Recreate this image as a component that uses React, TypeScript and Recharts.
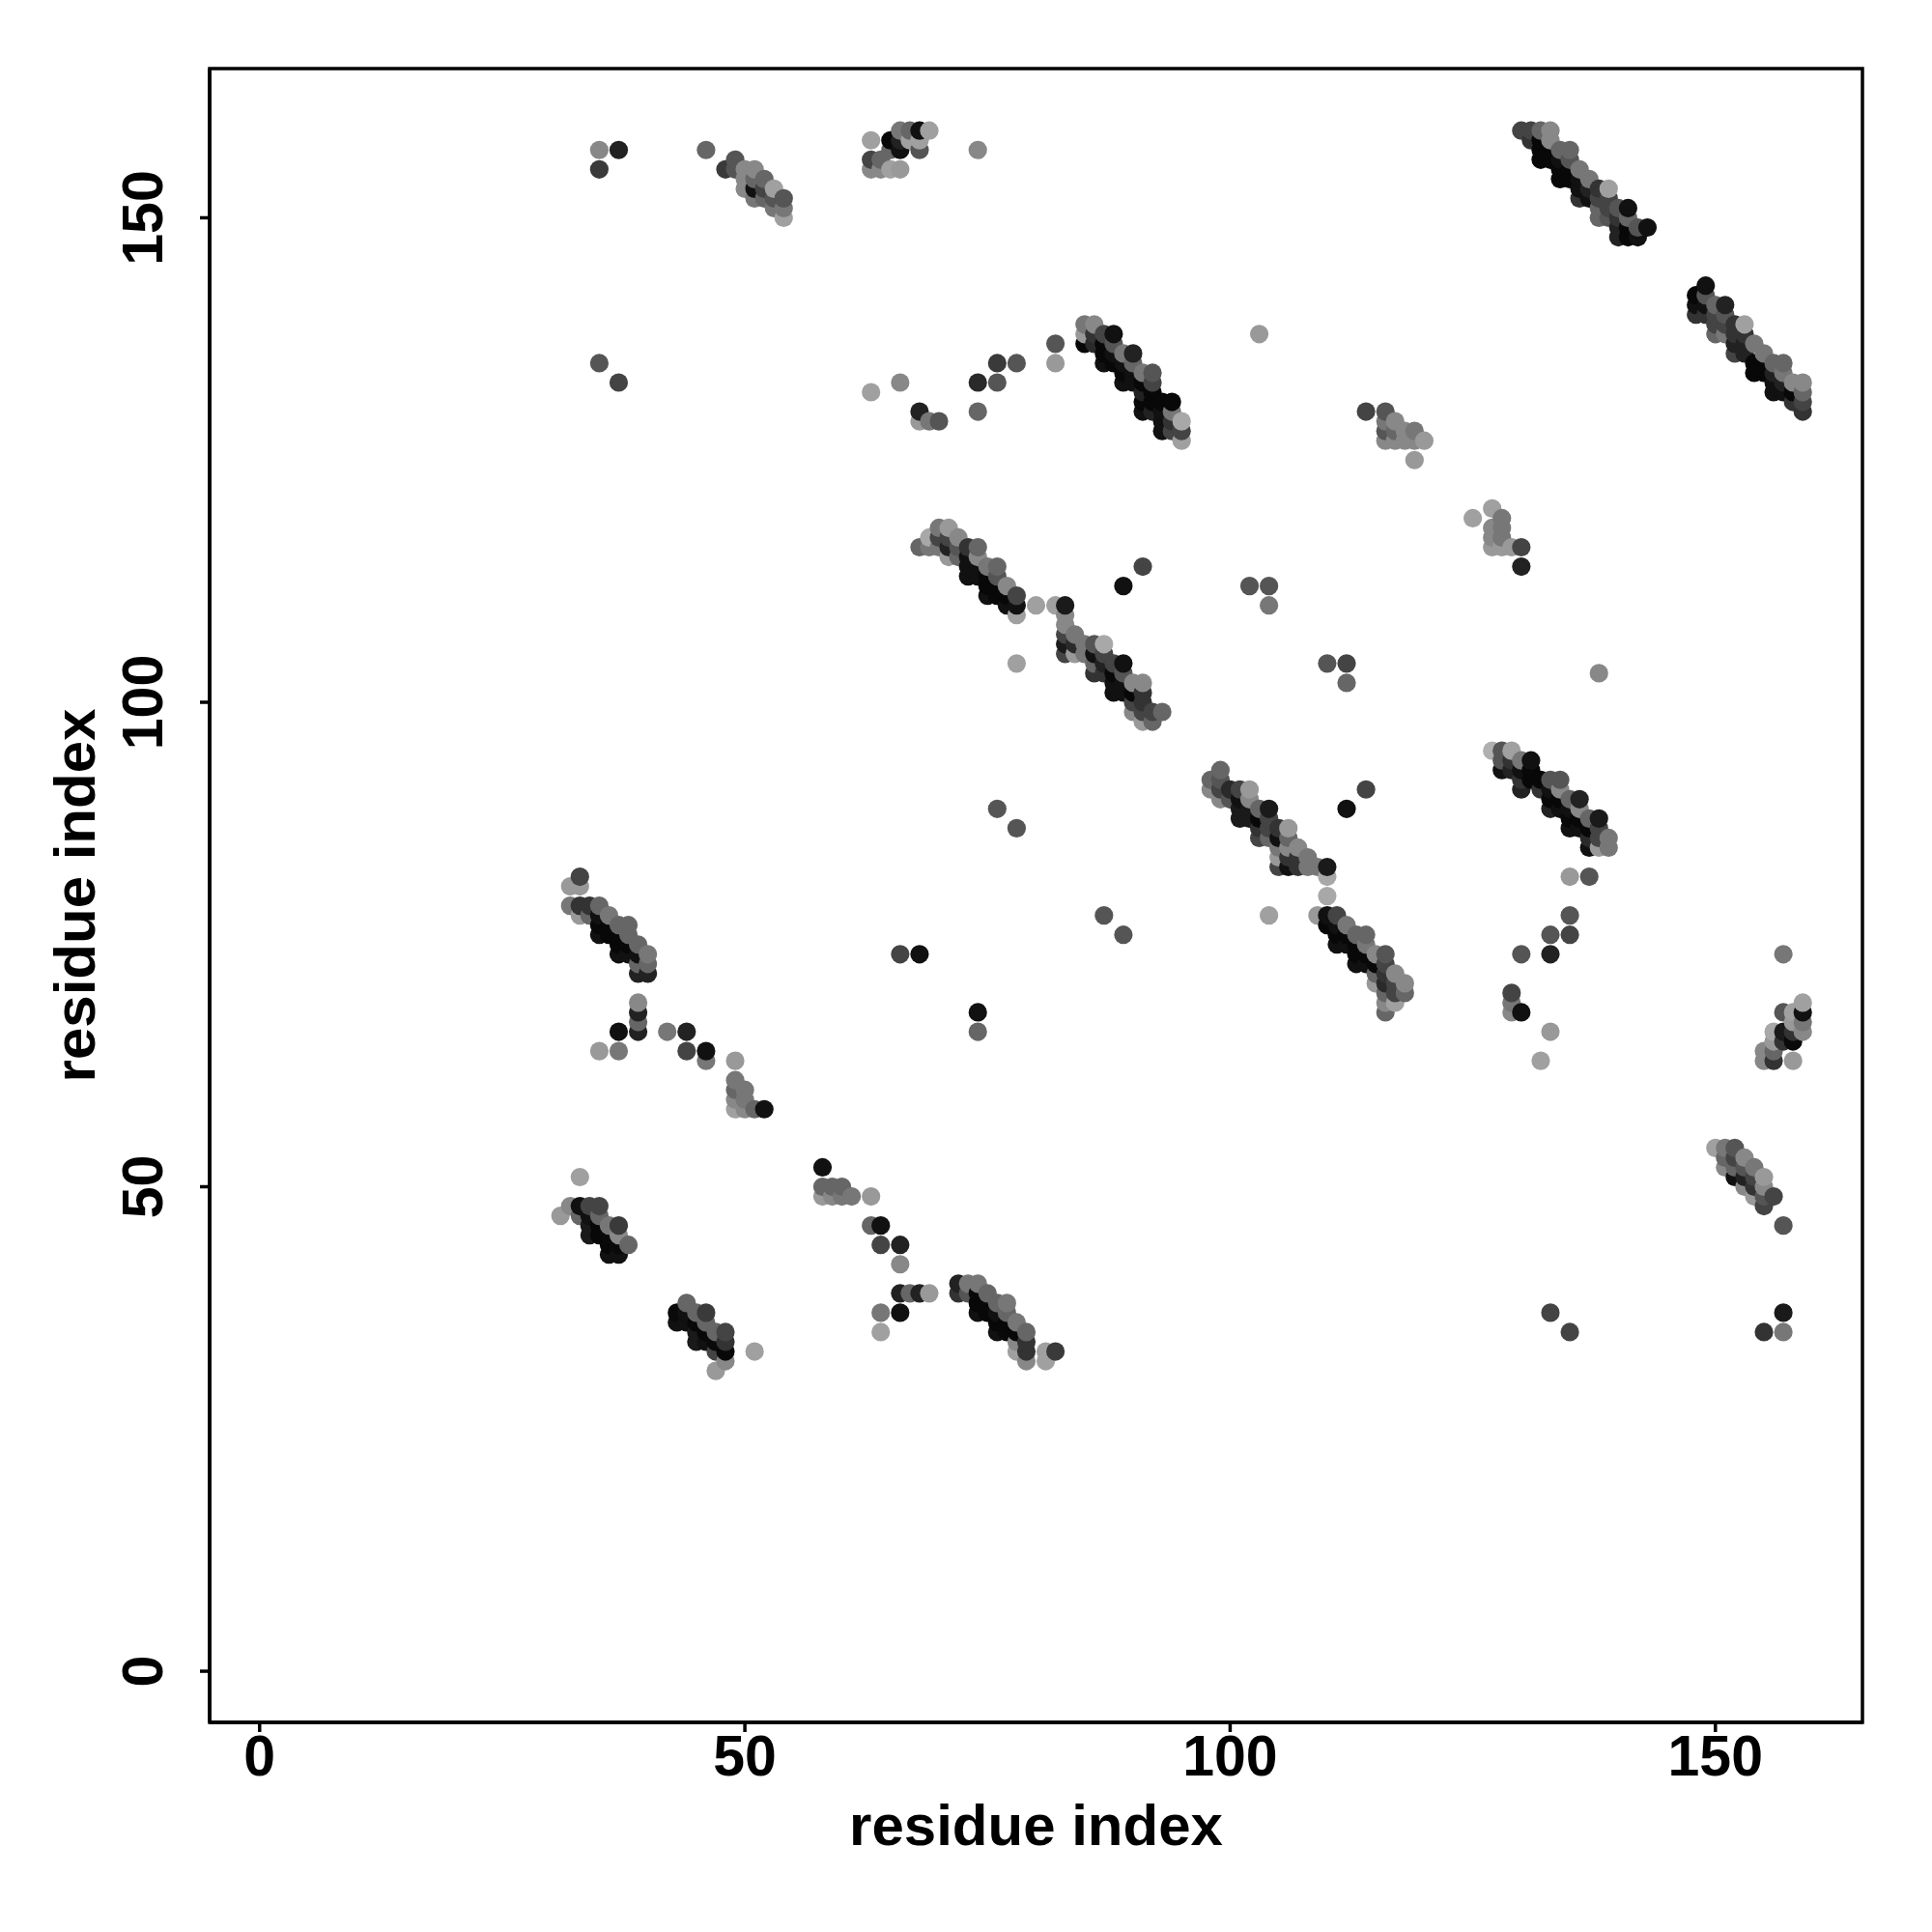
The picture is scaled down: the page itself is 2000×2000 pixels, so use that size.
import React from "react";
import { ScatterChart, Scatter, XAxis, YAxis, ReferenceArea } from "recharts";

type P = [number, number, number];
const tickValues = [0, 50, 100, 150];
const axisTitle = "residue index";

const topLeft: P[] = [[35,157,0x88],[37,157,0x22],[35,155,0x3a],[46,157,0x66],[48,155,0x3a],[49,156,0x55],[49,155,0x55],[50,155,0x88],[51,155,0x88],[50,154,0x88],[50,153,0x88],[51,154,0x66],[51,153,0x11],[51,152,0x77],[52,154,0x66],[52,153,0x44],[52,152,0x66],[53,153,0xa0],[53,152,0x55],[53,151,0x77],[54,152,0x55],[54,151,0x77],[54,150,0xa0]];
const topMid: P[] = [[63,158,0xa0],[63,156,0x44],[63,155,0x88],[64,156,0x66],[64,155,0x88],[65,158,0x08],[65,157,0x66],[65,155,0xa0],[66,155,0x99],[66,157,0x11],[66,158,0x22],[66,159,0x77],[67,159,0x66],[67,158,0xa0],[68,159,0x11],[68,158,0xa0],[68,157,0x55],[69,159,0xa0],[74,157,0x88]];
const topRight: P[] = [[130,159,0x44],[131,159,0x44],[131,158,0x33],[132,159,0x66],[132,158,0x08],[132,157,0x08],[132,156,0x08],[133,159,0x88],[133,158,0x88],[133,157,0x08],[133,156,0x08],[134,157,0x66],[134,156,0x11],[134,155,0x08],[134,154,0x08],[135,157,0x66],[135,156,0x55],[135,155,0x08],[135,154,0x08],[136,155,0x77],[136,154,0x11],[136,153,0x11],[136,152,0x33],[137,154,0x77],[137,153,0x22],[137,152,0x11],[138,153,0x33],[138,152,0x44],[138,151,0x66],[138,150,0x66],[139,153,0xa0],[139,152,0x44],[139,151,0x44],[139,150,0x55],[140,151,0x55],[140,150,0x33],[140,149,0x22],[140,148,0x22],[141,151,0x11],[141,150,0x66],[141,149,0x08],[141,148,0x08],[142,149,0x55],[142,148,0x11],[143,149,0x11]];
const farRight: P[] = [[148,142,0x08],[148,141,0x11],[148,140,0x33],[149,143,0x11],[149,142,0x55],[149,141,0x11],[149,140,0x33],[150,141,0x66],[150,140,0x44],[150,139,0x44],[150,138,0x66],[151,141,0x22],[151,140,0x55],[151,139,0x44],[151,138,0x77],[152,139,0x33],[152,138,0x33],[152,137,0x22],[152,136,0x44],[153,139,0xa0],[153,138,0x33],[153,137,0x22],[153,136,0x22],[154,137,0x77],[154,135,0x08],[154,134,0x08],[155,136,0x77],[155,135,0x08],[155,134,0x08],[156,135,0x66],[156,134,0x22],[156,133,0x11],[156,132,0x11],[157,135,0x66],[157,134,0x77],[157,133,0x22],[157,132,0x11],[158,133,0x88],[158,132,0x08],[158,131,0x33],[159,133,0x88],[159,132,0x66],[159,131,0x44],[159,130,0x33]];
const midUpper: P[] = [[35,135,0x55],[37,133,0x44],[63,132,0xa0],[66,133,0x88],[68,130,0x22],[68,129,0x99],[69,129,0x77],[70,129,0x55],[74,130,0x66],[74,133,0x2a],[76,133,0x55],[76,135,0x3a],[78,135,0x55],[82,137,0x55],[82,135,0x99],[103,138,0x99]];
const midBand: P[] = [[85,139,0x77],[86,139,0x88],[85,138,0x99],[85,137,0x08],[86,138,0x33],[86,137,0x2a],[87,138,0x44],[88,138,0x11],[87,137,0x08],[88,137,0x55],[87,135,0x11],[88,135,0x08],[87,136,0x08],[88,136,0x11],[89,136,0x77],[90,136,0x22],[89,135,0x11],[90,135,0x66],[89,133,0x11],[90,133,0x11],[89,134,0x08],[90,134,0x11],[91,134,0x77],[92,134,0x55],[91,132,0x22],[91,133,0x08],[92,133,0x44],[92,132,0x08],[91,130,0x11],[92,130,0x22],[91,131,0x08],[92,131,0x08],[93,131,0x08],[93,130,0x11],[93,129,0x11],[93,128,0x11],[94,131,0x08],[94,130,0x77],[94,129,0x33],[94,128,0x44],[95,129,0xa8],[95,128,0x44],[95,127,0xa0]];
const rightUpper: P[] = [[114,130,0x44],[116,130,0x55],[116,129,0x77],[116,128,0x55],[116,127,0x88],[117,129,0x88],[117,128,0x66],[117,127,0x88],[118,128,0x88],[118,127,0x88],[119,128,0x77],[119,127,0x88],[119,125,0x99],[120,127,0x99],[125,119,0xa0],[127,120,0xa0],[127,118,0x88],[127,117,0x88],[127,116,0x99],[128,119,0x77],[128,118,0x77],[128,117,0x77],[128,116,0x99],[129,116,0x99],[130,116,0x44],[130,114,0x22]];
const centerA: P[] = [[68,116,0x66],[69,116,0x77],[69,117,0xa8],[70,118,0x77],[71,118,0x99],[70,117,0x44],[70,116,0x77],[71,117,0x44],[71,116,0x22],[71,115,0x99],[72,117,0x88],[72,116,0x55],[72,115,0x66],[73,116,0x33],[74,116,0x66],[73,115,0x11],[74,115,0x88],[73,114,0x11],[73,113,0x11],[74,114,0x11],[74,113,0x11],[75,114,0x77],[76,114,0x66],[75,113,0x08],[76,113,0x55],[75,112,0x08],[75,111,0x11],[76,112,0x08],[76,111,0x08],[77,112,0x88],[77,111,0x08],[77,110,0x11],[78,111,0x44],[78,110,0x11],[78,109,0xa0],[80,110,0xa0],[82,110,0xa0],[78,104,0xa0]];
const centerB: P[] = [[83,110,0x1a],[83,109,0x88],[83,108,0x88],[83,107,0x44],[83,106,0x1a],[83,105,0x44],[84,107,0x77],[84,106,0x2a],[84,105,0x99],[85,106,0x77],[85,105,0x77],[86,106,0x55],[87,106,0xa8],[86,105,0x11],[87,105,0x44],[86,104,0x66],[86,103,0x33],[87,104,0x22],[87,103,0x33],[88,104,0x44],[89,104,0x11],[88,103,0x08],[89,103,0x55],[88,102,0x11],[88,101,0x11],[89,102,0x11],[89,101,0x11],[90,102,0x88],[91,102,0x88],[90,101,0x08],[91,101,0x33],[90,100,0x44],[90,99,0x88],[91,100,0x33],[91,99,0x44],[91,98,0x99],[92,99,0x44],[92,98,0x66],[93,99,0x66],[89,112,0x11],[91,114,0x44]];
const scatteredMid: P[] = [[102,112,0x55],[104,112,0x55],[104,110,0x77],[110,104,0x55],[112,104,0x44],[112,102,0x66],[138,103,0x88],[114,91,0x44],[112,89,0x11],[76,89,0x55],[78,87,0x55],[87,78,0x55],[89,76,0x55],[104,78,0xa0],[66,74,0x44],[68,74,0x11],[74,68,0x11],[74,66,0x66],[135,82,0x99],[137,82,0x55],[135,78,0x55],[133,76,0x55],[135,76,0x44],[130,74,0x55],[133,74,0x22],[129,70,0x44],[129,69,0x77],[129,68,0x88],[130,68,0x11],[133,66,0x99],[132,63,0xa0],[157,74,0x77]];
const bandNinety: P[] = [[99,93,0x66],[98,92,0x66],[98,91,0x88],[99,92,0x55],[99,91,0x44],[99,90,0x88],[100,91,0x2a],[100,90,0x55],[101,91,0x44],[102,91,0x99],[101,90,0x11],[102,90,0x88],[101,89,0x1a],[101,88,0x1a],[102,89,0x1a],[102,88,0x1a],[103,89,0x66],[104,89,0x1a],[103,88,0x08],[104,88,0x44],[103,87,0x33],[103,86,0x44],[104,87,0x44],[104,86,0x66],[105,87,0x33],[106,87,0x99],[105,86,0x11],[106,86,0x66],[105,85,0x77],[105,84,0x99],[105,83,0x44],[106,85,0x88],[106,84,0x33],[106,83,0x11],[107,85,0x88],[107,84,0x33],[107,83,0x33],[108,84,0x77],[108,83,0x77],[109,83,0x77],[110,83,0x1a],[110,82,0xa8],[110,80,0xa8]];
const bandSeventy: P[] = [[109,78,0x99],[110,78,0x11],[111,78,0x44],[110,77,0x08],[111,77,0x11],[112,77,0x77],[111,76,0x08],[111,75,0x11],[112,76,0x08],[112,75,0x11],[113,76,0x66],[114,76,0x66],[113,75,0x08],[114,75,0x77],[113,74,0x08],[113,73,0x11],[114,74,0x08],[114,73,0x11],[115,74,0x88],[116,74,0x55],[115,73,0x08],[116,73,0x44],[115,72,0x66],[115,71,0x99],[116,72,0x33],[116,71,0x2a],[116,70,0x66],[116,69,0x88],[116,68,0x66],[117,72,0x88],[117,71,0x44],[117,70,0x44],[117,69,0xa0],[118,71,0x88],[118,70,0x66]];
const bandRight: P[] = [[127,95,0xb0],[128,95,0x55],[129,95,0xa0],[128,94,0x55],[128,93,0x11],[129,93,0x22],[129,94,0x33],[130,94,0x77],[131,94,0x11],[130,93,0x11],[131,93,0x08],[130,92,0x33],[130,91,0x22],[131,92,0x08],[132,91,0x33],[132,92,0x08],[133,92,0x55],[134,92,0x55],[133,91,0x11],[134,91,0x88],[133,90,0x08],[133,89,0x22],[134,90,0x08],[134,89,0x11],[135,90,0x66],[136,90,0x22],[135,89,0x11],[136,89,0x88],[135,88,0x08],[135,87,0x11],[136,88,0x08],[136,87,0x11],[137,88,0x66],[138,88,0x1a],[137,87,0x08],[138,87,0x44],[137,86,0x2a],[137,85,0x11],[138,86,0x44],[138,85,0x99],[139,86,0x77],[139,85,0x77]];
const cornerRight: P[] = [[159,69,0xa0],[157,68,0x55],[158,68,0xa0],[159,68,0x11],[159,67,0x77],[159,66,0x88],[158,67,0x99],[157,66,0x1a],[158,66,0x33],[158,65,0x0a],[157,65,0x33],[156,66,0xa8],[156,65,0x99],[156,64,0x66],[156,63,0x33],[155,64,0x88],[155,63,0x88],[158,63,0x99]];
const leftBand: P[] = [[33,82,0x44],[32,81,0x99],[33,81,0x99],[32,79,0x77],[33,79,0x33],[34,79,0x33],[35,79,0x66],[33,78,0x99],[34,78,0x66],[35,78,0x11],[35,77,0x08],[35,76,0x11],[36,78,0x77],[36,77,0x08],[36,76,0x08],[37,77,0x66],[38,77,0x66],[37,76,0x08],[38,76,0x66],[37,75,0x08],[37,74,0x11],[38,75,0x08],[38,74,0x11],[39,75,0x66],[39,74,0x11],[39,73,0x66],[39,72,0x22],[40,74,0x77],[40,73,0x66],[40,72,0x22]];
const leftLower: P[] = [[39,69,0x88],[39,68,0x22],[39,67,0x66],[39,66,0x22],[37,66,0x11],[35,64,0x99],[37,64,0x77],[42,66,0x77],[44,66,0x22],[44,64,0x44],[46,64,0x11],[46,63,0x77],[49,63,0x99],[49,61,0x77],[49,60,0x66],[50,60,0x77],[49,59,0x88],[50,59,0x77],[49,58,0xa0],[50,58,0x88],[51,58,0x66],[52,58,0x11],[33,51,0xa0]];
const lowMid: P[] = [[58,52,0x11],[58,50,0x66],[59,50,0x66],[58,49,0x99],[59,49,0x88],[60,50,0x66],[60,49,0x77],[61,49,0x77],[63,49,0x99],[63,46,0x66],[64,46,0x11],[64,44,0x44],[66,44,0x22],[66,42,0x88],[66,39,0x22],[67,39,0x66],[68,39,0x22],[69,39,0x99],[64,37,0x77],[66,37,0x11],[64,35,0xa0]];
const lowLeftA: P[] = [[31,47,0x99],[32,48,0x88],[33,48,0x11],[34,48,0x44],[35,48,0x44],[33,47,0x66],[34,47,0x11],[35,47,0x66],[34,46,0x1a],[34,45,0x1a],[35,46,0x08],[35,45,0x08],[36,46,0x77],[37,46,0x3a],[36,45,0x0a],[37,45,0x88],[36,44,0x08],[36,43,0x11],[37,44,0x0a],[37,43,0x11],[38,44,0x66]];
const lowLeftB: P[] = [[44,38,0x66],[43,37,0x0a],[43,36,0x11],[44,37,0x11],[44,36,0x11],[45,37,0x66],[46,37,0x3a],[45,36,0x08],[45,34,0x1a],[45,35,0x1a],[46,36,0x66],[46,35,0x08],[46,34,0x11],[47,35,0x66],[48,35,0x44],[47,34,0x0a],[47,33,0x44],[48,34,0x33],[48,33,0x08],[48,32,0x88],[47,31,0x99],[51,33,0xa0]];
const lowCenter: P[] = [[72,40,0x22],[72,39,0x33],[73,40,0x77],[73,39,0x55],[74,40,0x77],[74,39,0x08],[74,38,0x08],[74,37,0x11],[75,39,0x66],[75,38,0x08],[75,37,0x08],[76,38,0x66],[77,38,0x77],[76,37,0x11],[76,36,0x08],[76,35,0x11],[77,37,0x66],[77,36,0x08],[77,35,0x0a],[78,36,0x77],[78,35,0x08],[79,35,0x66],[79,34,0x33],[79,33,0x33],[78,34,0x88],[78,33,0xa0],[79,32,0x88],[81,33,0xa0],[81,32,0xa0],[82,33,0x3a]];
const lowRight: P[] = [[133,37,0x44],[135,35,0x44],[157,37,0x1a],[155,35,0x33],[157,35,0x77],[150,54,0xa0],[151,54,0x77],[152,54,0x55],[151,53,0x66],[152,53,0x44],[153,53,0x88],[151,52,0x88],[152,52,0x66],[153,52,0x55],[154,52,0x77],[152,51,0x11],[153,51,0x22],[154,51,0x44],[155,51,0x99],[153,50,0x88],[154,50,0x33],[155,50,0x88],[154,49,0x99],[155,49,0x55],[156,49,0x44],[155,48,0x44],[157,46,0x55]];

const allPoints = [
  ...topLeft, ...topMid, ...topRight, ...farRight, ...midUpper, ...midBand, ...rightUpper,
  ...centerA, ...centerB, ...scatteredMid, ...bandNinety, ...bandSeventy, ...bandRight,
  ...cornerRight, ...leftBand, ...leftLower, ...lowMid, ...lowLeftA, ...lowLeftB, ...lowCenter, ...lowRight,
]
  .slice()
  .sort((a, b) => a[0] - b[0] || a[1] - b[1])
  .map(([x, y, g]) => ({ x, y, g }));

const FONT = "'Liberation Sans', Arial, sans-serif";
const tickStyle = { fontFamily: FONT, fontSize: 59, fontWeight: 700, fill: "#000" };
const titleStyle = { fontFamily: FONT, fontSize: 60, fontWeight: 700, fill: "#000" };

const Dot = (props: any) => {
  const { cx, cy, payload } = props;
  const g = payload.g;
  return <circle cx={cx} cy={cy} r={9.6} fill={`rgb(${g},${g},${g})`} />;
};

const XTick = (props: any) => (
  <text x={props.x} y={1838} textAnchor="middle" {...tickStyle}>
    {props.payload.value}
  </text>
);

const YTick = (props: any) => (
  <text
    x={168}
    y={props.y}
    textAnchor="middle"
    transform={`rotate(-90 168 ${props.y})`}
    {...tickStyle}
  >
    {props.payload.value}
  </text>
);

const XTitle = (props: any) => {
  const v = props.viewBox;
  return (
    <text x={v.x + v.width / 2} y={1910} textAnchor="middle" {...titleStyle}>
      {axisTitle}
    </text>
  );
};

const YTitle = (props: any) => {
  const v = props.viewBox;
  const cy = v.y + v.height / 2;
  return (
    <text x={98} y={cy} textAnchor="middle" transform={`rotate(-90 98 ${cy})`} {...titleStyle}>
      {axisTitle}
    </text>
  );
};

const axisLine = { stroke: "#000", strokeWidth: 3.5 };
const X_DOMAIN: [number, number] = [-5.15, 165.15];
const Y_DOMAIN: [number, number] = [-5.28, 165.4];

export default function App() {
  return (
    <div style={{ position: "absolute", left: 0, top: 0, width: 2000, height: 2000, background: "#fff" }}>
      <ScatterChart
        width={2000}
        height={2000}
        margin={{ top: 71, right: 72, bottom: 0, left: 0 }}
      >
        <XAxis
          type="number"
          dataKey="x"
          domain={X_DOMAIN}
          ticks={tickValues}
          height={217}
          tick={<XTick />}
          tickLine={axisLine}
          axisLine={axisLine}
          tickSize={10}
          interval={0}
          allowDataOverflow
          label={<XTitle />}
        />
        <YAxis
          type="number"
          dataKey="y"
          domain={Y_DOMAIN}
          ticks={tickValues}
          width={217}
          tick={<YTick />}
          tickLine={axisLine}
          axisLine={axisLine}
          tickSize={10}
          interval={0}
          allowDataOverflow
          label={<YTitle />}
        />
        <ReferenceArea
          x1={X_DOMAIN[0]}
          x2={X_DOMAIN[1]}
          y1={Y_DOMAIN[0]}
          y2={Y_DOMAIN[1]}
          fill="none"
          stroke="#000"
          strokeWidth={3.5}
          ifOverflow="visible"
        />
        <Scatter data={allPoints} isAnimationActive={false} shape={<Dot />} />
      </ScatterChart>
    </div>
  );
}
